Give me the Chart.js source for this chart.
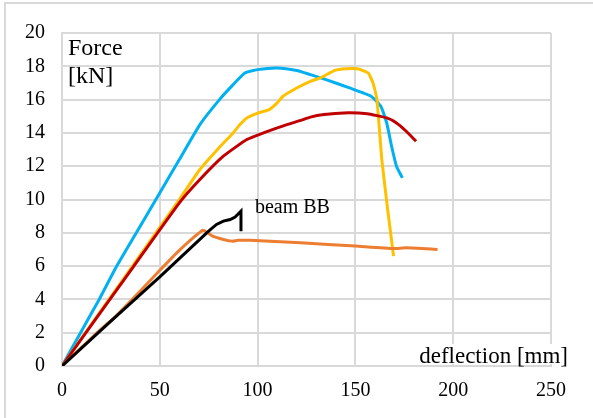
<!DOCTYPE html>
<html>
<head>
<meta charset="utf-8">
<script src="https://cdn.jsdelivr.net/npm/chart.js@4/dist/chart.umd.min.js"></script>
<style>
  html, body { margin: 0; padding: 0; background: #fff; }
  #wrap { position: relative; width: 593px; height: 418px; overflow: hidden; }
  #frame { position: absolute; left: 4px; top: 2px; right: -10px; bottom: -10px;
           border-left: 2px solid #d9d9d9; border-top: 2px solid #d9d9d9; }
  #myChart { position: absolute; left: 0; top: 0; }
</style>
</head>
<body>
<div id="wrap">
  <div id="frame"></div>
  <canvas id="myChart" width="593" height="418"></canvas>
</div>
<script>
// Sumbu
const xTicks = [0, 50, 100, 150, 200, 250];
const yTicks = [0, 2, 4, 6, 8, 10, 12, 14, 16, 18, 20];
const xTitle = "deflection [mm]";
const yTitle = ["Force", "[kN]"];
const beamLabel = "beam BB";

// Data lendutan [mm] dan gaya [kN]
const blueX = [0, 9.5, 19, 28, 38, 48, 60, 70.5, 80.5, 87.5, 93.5, 100, 110, 120, 127, 135, 147, 158, 163, 166, 168.5, 171, 174];
const blueY = [0, 2, 4, 6, 8, 10, 12.4, 14.5, 16.0, 16.9, 17.6, 17.8, 17.9, 17.75, 17.5, 17.2, 16.7, 16.2, 15.6, 14.6, 13.2, 12.0, 11.3];

const yellowX = [0, 30, 60, 70.5, 81, 87.5, 91, 94.5, 100.5, 106, 110, 113, 120, 127, 132, 139.5, 145, 151, 156.5, 159, 161, 163.5, 166.5, 169.5];
const yellowY = [0, 5.0, 10.0, 11.8, 13.2, 14.0, 14.5, 14.9, 15.2, 15.4, 15.8, 16.2, 16.7, 17.1, 17.3, 17.75, 17.85, 17.85, 17.6, 17.0, 16.0, 12.4, 9.4, 6.6];

const redX = [0, 30, 60, 70.5, 82.5, 94.5, 103, 115, 122, 127, 134, 144, 156, 166, 171, 176, 181];
const redY = [0, 4.9, 9.8, 11.2, 12.6, 13.6, 14.0, 14.5, 14.75, 14.95, 15.1, 15.2, 15.15, 14.9, 14.6, 14.1, 13.5];

const orangeX = [0, 18, 28, 40, 50, 60, 72, 74.5, 77, 82.5, 87, 90, 96, 122, 150, 169.5, 176, 192];
const orangeY = [0, 2.0, 3.05, 4.5, 5.75, 6.95, 8.15, 8.0, 7.8, 7.6, 7.5, 7.55, 7.55, 7.4, 7.2, 7.05, 7.1, 7.0];

const blackX = [0, 25, 50, 74, 76, 79, 82.5, 86, 88.5, 91.5, 91.5];
const blackY = [0, 2.7, 5.35, 8.0, 8.2, 8.5, 8.7, 8.8, 8.95, 9.3, 8.1];

function toPoints(xs, ys) {
  return xs.map((x, i) => ({ x: x, y: ys[i] }));
}

function series(xs, ys, color, tension) {
  return {
    data: toPoints(xs, ys),
    borderColor: color,
    borderWidth: 3,
    pointRadius: 0,
    showLine: true,
    fill: false,
    tension: tension
  };
}

const serif = '"Liberation Serif", "Times New Roman", serif';

// Teks judul sumbu dan label balok
const textPlugin = {
  id: 'chartText',
  afterDatasetsDraw(chart) {
    const { ctx, chartArea, scales } = chart;
    ctx.save();
    ctx.textBaseline = 'alphabetic';
    ctx.fillStyle = '#000';
    ctx.font = '24px ' + serif;
    ctx.textAlign = 'left';
    ctx.fillText(yTitle[0], chartArea.left + 6, chartArea.top + 22);
    ctx.fillText(yTitle[1], chartArea.left + 6, chartArea.top + 50);

    // judul sumbu x dengan latar putih
    ctx.font = '23px ' + serif;
    ctx.textAlign = 'right';
    const w = ctx.measureText(xTitle).width;
    const right = chartArea.right + 17;
    ctx.fillStyle = '#fff';
    ctx.fillRect(right - w - 3, chartArea.bottom - 22, w + 6, 20);
    ctx.fillStyle = '#000';
    ctx.fillText(xTitle, right, chartArea.bottom - 3);

    // label di ujung kurva hitam
    const k = blackY.indexOf(Math.max(...blackY));
    const px = scales.x.getPixelForValue(blackX[k]);
    const py = scales.y.getPixelForValue(blackY[k]);
    ctx.font = '20px ' + serif;
    ctx.textAlign = 'left';
    ctx.fillText(beamLabel, px + 14, py + 2);
    ctx.restore();
  }
};

const tickFont = { family: serif, size: 20 };

const ctx = document.getElementById("myChart").getContext("2d");

// dataset pertama digambar paling atas
const chart = new Chart(ctx, {
  type: 'scatter',
  data: {
    datasets: [
      series(blackX, blackY, '#000000', 0),
      series(orangeX, orangeY, '#ED7D31', 0.15),
      series(redX, redY, '#C00000', 0.15),
      series(yellowX, yellowY, '#FFC000', 0.15),
      series(blueX, blueY, '#00B0F0', 0.15)
    ]
  },
  options: {
    responsive: false,
    animation: false,
    layout: { padding: { top: 33, right: 42, left: 0, bottom: 0 } },
    scales: {
      x: {
        type: 'linear',
        min: xTicks[0],
        max: xTicks[xTicks.length - 1],
        ticks: { stepSize: xTicks[1] - xTicks[0], padding: 13, color: '#000', font: tickFont },
        grid: { color: '#d9d9d9', lineWidth: 2, drawTicks: false },
        border: { color: '#d9d9d9', width: 2 },
        afterFit(scale) { scale.height = 52; }
      },
      y: {
        min: yTicks[0],
        max: yTicks[yTicks.length - 1],
        ticks: { stepSize: yTicks[1] - yTicks[0], padding: 17, color: '#000', font: tickFont },
        grid: { color: '#d9d9d9', lineWidth: 2, drawTicks: false },
        border: { color: '#d9d9d9', width: 2 },
        afterFit(scale) { scale.width = 62; }
      }
    },
    plugins: {
      legend: { display: false },
      tooltip: { enabled: false }
    }
  },
  plugins: [textPlugin]
});
</script>
</body>
</html>
